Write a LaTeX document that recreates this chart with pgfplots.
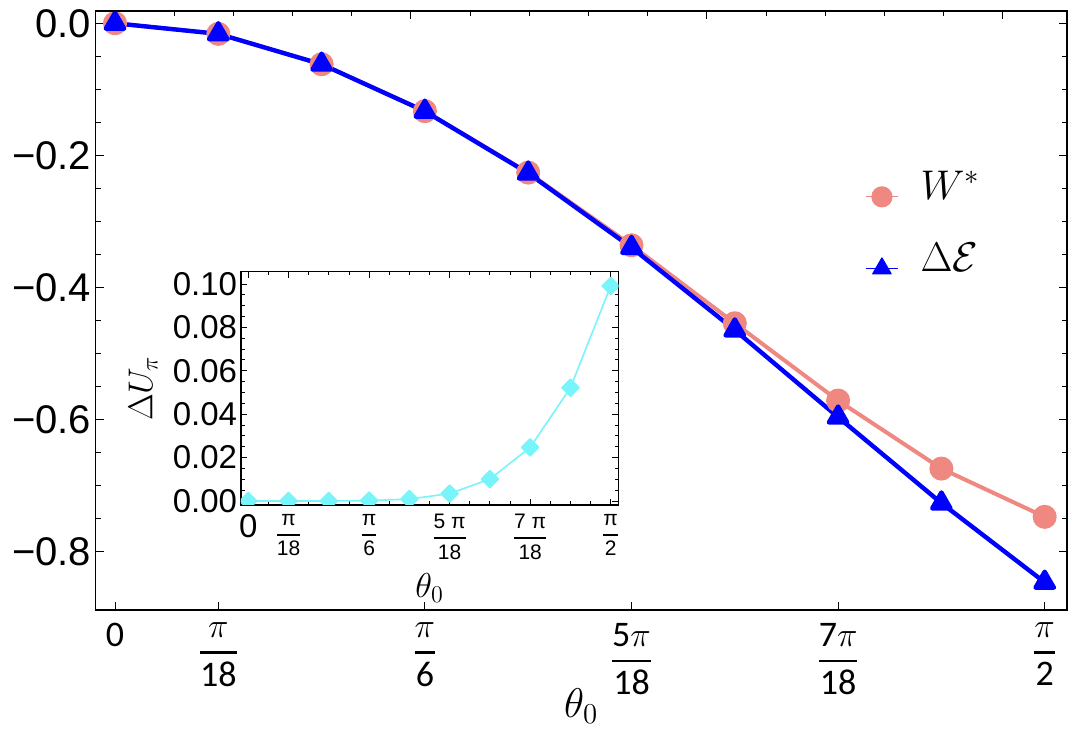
\documentclass[border=0pt]{standalone}
\usepackage{amsmath}
\usepackage{fontspec}
\setmainfont{Liberation Sans}
\newfontfamily\carlito{Carlito}
\usepackage{pgfplots}
\pgfplotsset{compat=1.18}
\definecolor{wpink}{RGB}{240,136,130}
\definecolor{eblue}{RGB}{0,0,255}
\definecolor{ucyan}{RGB}{120,245,250}
\newcommand{\mfr}[2]{\ensuremath{\genfrac{}{}{1.3pt}{0}{#1}{\text{\carlito #2}}}}
\newcommand{\ifr}[2]{\ensuremath{\genfrac{}{}{0.9pt}{0}{\text{#1}}{\text{#2}}}}
\begin{document}
\begin{tikzpicture}
\useasboundingbox (0,0) rectangle (542pt,366pt);
% main axis
\begin{axis}[
  at={(47.75pt,61pt)}, anchor=south west,
  scale only axis, width=485.75pt, height=299.5pt,
  xmin=-1.89, xmax=92.16, ymin=-0.888, ymax=0.0186,
  axis line style={line width=0.8pt},
  tick style={line width=0.5pt, black},
  major tick length=4pt, minor tick length=2.5pt,
  tick align=inside,
  xtick={0,10,30,50,70,90},
  xticklabels={{\raisebox{-1.8pt}{\carlito 0}}, {\mfr{\pi}{18}}, {\mfr{\pi}{6}}, {\mfr{\text{\carlito 5}\pi}{18}}, {\mfr{\text{\carlito 7}\pi}{18}}, {\mfr{\pi}{2}}},
  xtick pos=bottom,
  ytick={-0.8,-0.6,-0.4,-0.2,0},
  yticklabels={−0.8,−0.6,−0.4,−0.2,0.0},
  minor y tick num=3,
  yticklabel pos=left,
  yticklabel style={font=\fontsize{20}{22}\selectfont, inner sep=0pt, xshift=-2pt},
  xticklabel style={font=\fontsize{18}{20}\selectfont, inner sep=0pt, anchor=north, yshift=-6.3pt},
  xlabel={$\theta_0$},
  xlabel style={font=\fontsize{21}{24}\selectfont, inner sep=0pt, at={(rel axis cs:0.5,0)}, anchor=north, yshift=-39pt},
  legend style={draw=none, fill=none, at={(rel axis cs:0.792,0.74)}, anchor=north west,
    font=\fontsize{22}{26}\selectfont, row sep=16pt, inner sep=0pt,
    /tikz/every odd column/.append style={column sep=9pt}},
  legend cell align=left,
  legend image code/.code={
    \draw[#1, line width=0.6pt, mark=none] (0pt,-5pt) -- (16pt,-5pt);
    \draw[#1, line width=0.6pt] plot coordinates {(8pt,-5pt)};
  },
]
\addplot[wpink, line width=2pt, line join=round, mark=*, mark size=5pt, mark options={draw=none, fill=wpink}]
  coordinates {(0,0) (10,-0.016) (20,-0.062) (30,-0.133) (40,-0.226) (50,-0.336) (60,-0.454) (70,-0.571) (80,-0.674) (90,-0.747)};
\addlegendentry{$W^{*}$}
\addplot[eblue, line width=2.2pt, line join=round, mark=triangle*, mark size=5.3pt, mark options={draw=none, fill=eblue}]
  coordinates {(0,0) (10,-0.016) (20,-0.062) (30,-0.1332) (40,-0.2269) (50,-0.3394) (60,-0.4643) (70,-0.5961) (80,-0.7262) (90,-0.8461)};
\addlegendentry{$\Delta\mathcal{E}$}
\end{axis}
% top ticks of main frame (0.1 rad steps)
\begin{axis}[
  at={(47.75pt,61pt)}, anchor=south west,
  scale only axis, width=485.75pt, height=299.5pt,
  xmin=-1.89, xmax=92.16, ymin=0, ymax=1,
  axis x line*=top, axis y line=none,
  axis line style={-, line width=0.8pt},
  tick style={line width=0.5pt, black},
  major tick length=4pt, minor tick length=2.5pt,
  tick align=inside,
  xtick={0,28.6479,57.2958,85.9437},
  minor xtick={5.7296,11.4592,17.1887,22.9183,34.3775,40.1070,45.8366,51.5662,63.0254,68.7549,74.4845,80.2141},
  xticklabels={},
]
\addplot[draw=none] coordinates {(0,0.5)};
\end{axis}
% inset
\begin{axis}[
  at={(120.5pt,113.5pt)}, anchor=south west,
  scale only axis, width=188.65pt, height=116.65pt,
  xmin=-1.81, xmax=91.88, ymin=-0.00184, ymax=0.10567,
  axis background/.style={fill=white},
  clip marker paths=true,
  axis line style={line width=0.7pt},
  tick style={line width=0.45pt, black},
  major tick length=3pt, minor tick length=1.8pt,
  tick align=inside,
  xtick={0,10,30,50,70,90},
  minor xtick={5,15,20,25,35,40,45,55,60,65,75,80,85},
  xticklabels={{\fontsize{16.5}{18}\selectfont\raisebox{-1pt}{0}}, {\ifr{π}{18}}, {\ifr{π}{6}}, {\ifr{5 π}{18}}, {\ifr{7 π}{18}}, {\ifr{π}{2}}},
  xticklabel pos=bottom,
  ytick={0,0.02,0.04,0.06,0.08,0.1},
  yticklabels={0.00,0.02,0.04,0.06,0.08,0.10},
  minor y tick num=3,
  yticklabel pos=left,
  yticklabel style={font=\fontsize{16.5}{18}\selectfont, inner sep=0pt, xshift=-1.8pt},
  xticklabel style={font=\fontsize{10.5}{12}\selectfont, inner sep=0pt, anchor=north, yshift=-4.5pt},
  xlabel={$\theta_0$},
  xlabel style={font=\fontsize{16.5}{19}\selectfont, inner sep=0pt, at={(rel axis cs:0.5,-0.2915)}, anchor=north},
  ylabel={$\Delta U_{\pi}$},
  ylabel style={font=\fontsize{18.5}{21}\selectfont, inner sep=0pt, at={(rel axis cs:-0.22,0.5)}, anchor=south, rotate=0},
]
\addplot[ucyan, line width=0.8pt, line join=round, mark=square*, mark size=3pt, mark options={rotate=45, draw=none, fill=ucyan}]
  coordinates {(0,0) (10,0) (20,0) (30,0.00015) (40,0.0009) (50,0.0034) (60,0.0101) (70,0.0247) (80,0.0522) (90,0.0991)};
\end{axis}
\end{tikzpicture}
\end{document}
